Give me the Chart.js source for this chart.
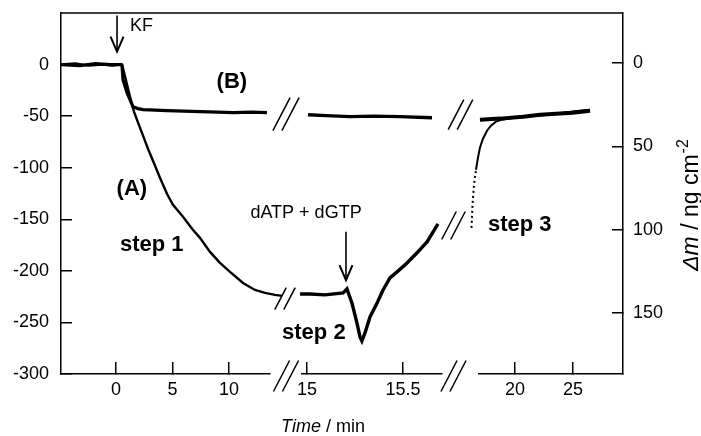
<!DOCTYPE html>
<html>
<head>
<meta charset="utf-8">
<script src="https://cdn.jsdelivr.net/npm/chart.js@4.4.1/dist/chart.umd.min.js"></script>
<style>
  html, body { margin: 0; padding: 0; background: #fff; }
  #wrap { width: 701px; height: 436px; }
</style>
</head>
<body>
<div id="wrap"><canvas id="qcmChart" width="701" height="436"></canvas></div>
<script>
// Frequency change (Hz) vs time (min), time axis broken in three pieces

// curve (A), step 1
const timeA1 = [-4.85, -3.6, -2.4, -1.2, -0.3, 0.3, 0.53, 0.8, 1.06, 1.33, 1.59, 1.95, 2.39, 2.83, 3.27, 3.89, 4.51, 5.04, 5.93, 6.73, 7.43, 8.32, 9.2, 10.09, 11.24, 12.3, 13.19, 14.07, 14.69];
const freqA1 = [0, 1, -1, 0, -1, 0, 0, -11.7, -23.3, -35, -45.6, -56.3, -68.9, -81.6, -93.2, -109.7, -125.3, -135.9, -147.6, -159.2, -168, -181.6, -192.3, -201, -211.7, -218.5, -221.4, -223.3, -224.3];
// curve (B), first piece
const timeB1 = [-4.85, -3.2, -1.8, -0.5, 0.4, 0.53, 0.62, 0.97, 1.24, 1.5, 1.95, 2.39, 3.5, 4.51, 6.0, 7.43, 9.0, 10.35, 12.0, 13.36];
const freqB1 = [0, -1, 1, 0, 0, -1, -14.6, -27.2, -34, -40.8, -42.7, -43.7, -44.2, -44.7, -45.2, -45.6, -46.1, -46.6, -46.1, -46.6];
// step 2 (middle piece)
const timeA2 = [14.964, 15.016, 15.094, 15.188, 15.208, 15.234, 15.26, 15.276, 15.286, 15.302, 15.328, 15.365, 15.396, 15.432, 15.469, 15.521, 15.573, 15.625, 15.682];
const freqA2 = [-222.4, -222.4, -223.3, -221.4, -217.5, -231.1, -250.5, -264.1, -268, -260.2, -244.7, -231.1, -218.5, -206.8, -201, -192.3, -182.5, -171.9, -154.4];
const timeB2 = [15.005, 15.1, 15.224, 15.35, 15.484, 15.651];
const freqB2 = [-48.6, -49.5, -50.5, -50.0, -50.5, -51.5];
// step 3 (last piece)
const timeA3 = [16.25, 16.34, 16.47, 16.64, 16.81, 16.98, 17.24, 17.59, 17.93, 18.36, 18.88, 20.0, 22.16, 24.97, 26.47];
const freqA3 = [-158.3, -135.9, -116.5, -102, -90.3, -80.6, -71.9, -64.1, -59.2, -55.3, -53.4, -51.5, -49.5, -45.6, -43.7];
const timeB3 = [16.98, 18.71, 20.69, 22.16, 23.53, 24.97, 26.47];
const freqB3 = [-53.4, -52.4, -50.5, -48.6, -47.6, -46.6, -44.7];

// tick labels
const leftTicks = [0, -50, -100, -150, -200, -250, -300];
const rightTicks = [0, 50, 100, 150];
const ticks1 = [0, 5, 10];
const ticks2 = [15, 15.5];
const ticks3 = [20, 25];

const FONT = "'Liberation Sans', Arial, Helvetica, sans-serif";
const tickFont = { family: FONT, size: 18 };

// text labels in data coordinates
const labels = [
    { text: 'KF', axis: 'x1', x: 1.24, y: 37, font: '18px ' + FONT, align: 'left' },
    { text: '(B)', axis: 'x1', x: 8.9, y: -16.5, font: 'bold 22px ' + FONT, align: 'left' },
    { text: '(A)', axis: 'x1', x: 0.05, y: -121, font: 'bold 22px ' + FONT, align: 'left' },
    { text: 'step 1', axis: 'x1', x: 0.35, y: -175, font: 'bold 22px ' + FONT, align: 'left' },
    { text: 'dATP + dGTP', axis: 'x2', x: 14.995, y: -144, font: '18px ' + FONT, align: 'center' },
    { text: 'step 2', axis: 'x2', x: 14.87, y: -260, font: 'bold 22px ' + FONT, align: 'left' },
    { text: 'step 3', axis: 'x3', x: 17.67, y: -155, font: 'bold 22px ' + FONT, align: 'left' }
];
const arrows = [
    { axis: 'x1', x: 0.09, from: 47.6, to: 12.6 },
    { axis: 'x2', x: 15.203, from: -162, to: -209 }
];
// break marks: gap axis, x shift, level (null = on the time axis)
const breaks = [
    { gap: 'g1', dx: 0, level: null, h: 31 },
    { gap: 'g1', dx: 0, level: -48, h: 33 },
    { gap: 'g1', dx: -1, level: -227, h: 22 },
    { gap: 'g2', dx: -7, level: null, h: 31 },
    { gap: 'g2', dx: 0, level: -48.6, h: 30 },
    { gap: 'g2', dx: -7, level: -156, h: 28 }
];

function pts(xs, ys) {
    return xs.map((x, i) => ({ x: x, y: ys[i] }));
}

function lineSet(xs, ys, axis, width) {
    return {
        data: pts(xs, ys),
        xAxisID: axis,
        yAxisID: 'y',
        borderColor: '#000',
        backgroundColor: '#000',
        borderWidth: width,
        pointRadius: 0,
        tension: 0,
        fill: false,
        clip: false
    };
}

function noPad(s) {
    s.paddingTop = 0;
    s.paddingBottom = 0;
    s.paddingLeft = 0;
    s.paddingRight = 0;
}

// range set in hooks (not min/max options) so the whole line is still drawn past the break
function timeAxis(lo, hi, ticks, weight, order) {
    return {
        type: 'linear',
        position: 'bottom',
        stack: 'time',
        stackWeight: weight,
        weight: order,
        bounds: 'data',
        afterDataLimits: s => { s.min = lo; s.max = hi; },
        afterBuildTicks: s => {
            s.ticks = ticks.map(v => ({ value: v }));
            s.min = lo;
            s.max = hi;
        },
        afterFit: s => { s.height = 62; noPad(s); },
        grid: { drawOnChartArea: false, tickLength: -12, color: '#000', lineWidth: 1.5 },
        border: { display: true, color: '#000', width: 1.5 },
        ticks: { color: '#000', font: tickFont, padding: 17, autoSkip: false, maxRotation: 0,
                 callback: v => String(v) }
    };
}

function gapAxis(weight, order) {
    return {
        type: 'linear',
        position: 'bottom',
        stack: 'time',
        stackWeight: weight,
        weight: order,
        min: 0,
        max: 1,
        afterBuildTicks: s => { s.ticks = []; },
        afterFit: s => { s.height = 62; noPad(s); },
        grid: { display: false },
        border: { display: false },
        ticks: { display: false }
    };
}

const decorPlugin = {
    id: 'decor',
    afterDraw(chart) {
        const ctx = chart.ctx;
        const area = chart.chartArea;
        const y = chart.scales.y;
        ctx.save();
        ctx.strokeStyle = '#000';
        ctx.fillStyle = '#000';

        // top frame line
        ctx.lineWidth = 1.5;
        ctx.beginPath();
        ctx.moveTo(area.left, area.top);
        ctx.lineTo(area.right, area.top);
        ctx.stroke();

        // labels
        labels.forEach(l => {
            ctx.font = l.font;
            ctx.textAlign = l.align;
            ctx.textBaseline = 'middle';
            ctx.fillText(l.text, chart.scales[l.axis].getPixelForValue(l.x), y.getPixelForValue(l.y));
        });

        // arrows
        arrows.forEach(a => {
            const px = chart.scales[a.axis].getPixelForValue(a.x);
            const y0 = y.getPixelForValue(a.from);
            const y1 = y.getPixelForValue(a.to);
            ctx.lineWidth = 1.6;
            ctx.beginPath();
            ctx.moveTo(px, y0);
            ctx.lineTo(px, y1);
            ctx.stroke();
            ctx.lineWidth = 2;
            ctx.beginPath();
            ctx.moveTo(px - 6.5, y1 - 15);
            ctx.lineTo(px, y1);
            ctx.lineTo(px + 6.5, y1 - 15);
            ctx.stroke();
        });

        // break marks
        ctx.lineWidth = 1.5;
        breaks.forEach(b => {
            const g = chart.scales[b.gap];
            const cx = (g.left + g.right) / 2 + b.dx;
            const cy = b.level === null ? area.bottom + 2 : y.getPixelForValue(b.level);
            const w = b.h * 0.52;
            [-4.5, 4.5].forEach(k => {
                ctx.beginPath();
                ctx.moveTo(cx + k - w / 2, cy + b.h / 2);
                ctx.lineTo(cx + k + w / 2, cy - b.h / 2);
                ctx.stroke();
            });
        });

        // x title: "Time / min"
        ctx.textBaseline = 'middle';
        ctx.textAlign = 'left';
        const tItal = 'italic 18px ' + FONT;
        const tNorm = '18px ' + FONT;
        ctx.font = tItal;
        const w1 = ctx.measureText('Time').width;
        ctx.font = tNorm;
        const w2 = ctx.measureText(' / min').width;
        let tx = (area.left + area.right) / 2 - 19 - (w1 + w2) / 2;
        ctx.font = tItal;
        ctx.fillText('Time', tx, 427);
        ctx.font = tNorm;
        ctx.fillText(' / min', tx + w1, 427);

        // right title: "Δm / ng cm-2"
        const rItal = 'italic 23px ' + FONT;
        const rNorm = '23px ' + FONT;
        const sup = '16px ' + FONT;
        ctx.textBaseline = 'alphabetic';
        ctx.translate(698, (area.top + area.bottom) / 2 + 12);
        ctx.rotate(-Math.PI / 2);
        ctx.font = rItal;
        const a1 = ctx.measureText('\u0394m').width;
        ctx.font = rNorm;
        const a2 = ctx.measureText(' / ng cm').width;
        ctx.font = sup;
        const a3 = ctx.measureText('-2').width;
        let sx = -(a1 + a2 + a3) / 2;
        ctx.font = rItal;
        ctx.fillText('\u0394m', sx, 0);
        ctx.font = rNorm;
        ctx.fillText(' / ng cm', sx + a1, 0);
        ctx.font = sup;
        ctx.fillText('-2', sx + a1 + a2 + 1, -10);
        ctx.restore();
    }
};

const ctx = document.getElementById('qcmChart').getContext('2d');
new Chart(ctx, {
    type: 'line',
    data: {
        datasets: [
            lineSet(timeA1, freqA1, 'x1', 2.4),
            lineSet(timeB1, freqB1, 'x1', 3.2),
            lineSet(timeA2, freqA2, 'x2', 3.4),
            lineSet(timeB2, freqB2, 'x2', 3.4),
            Object.assign(lineSet(timeA3, freqA3, 'x3', 2), {
                segment: { borderDash: c => c.p0.parsed.y < -110 ? [2, 3] : undefined }
            }),
            lineSet(timeB3, freqB3, 'x3', 4)
        ]
    },
    options: {
        responsive: false,
        animation: false,
        layout: { padding: { top: 13, left: 0, right: 0, bottom: 0 } },
        plugins: {
            legend: { display: false },
            tooltip: { enabled: false },
            title: { display: false }
        },
        scales: {
            x1: timeAxis(-4.87, 13.63, ticks1, 209, 1),
            g1: gapAxis(32, 2),
            x2: timeAxis(14.974, 15.703, ticks2, 140, 3),
            g2: gapAxis(37, 4),
            x3: timeAxis(16.9, 29.31, ticks3, 144, 5),
            y: {
                type: 'linear',
                position: 'left',
                min: -300,
                max: 50,
                afterBuildTicks: s => { s.ticks = leftTicks.map(v => ({ value: v })); },
                afterFit: s => { s.width = 61; noPad(s); },
                grid: { drawOnChartArea: false, tickLength: -11, color: '#000', lineWidth: 1.5 },
                border: { display: true, color: '#000', width: 1.5 },
                ticks: { color: '#000', font: tickFont, padding: 23, callback: v => String(v) }
            },
            y2: {
                type: 'linear',
                position: 'right',
                reverse: true,
                min: -30,
                max: 186.6,
                afterBuildTicks: s => { s.ticks = rightTicks.map(v => ({ value: v })); },
                afterFit: s => { s.width = 78; noPad(s); },
                grid: { drawOnChartArea: false, tickLength: -11, color: '#000', lineWidth: 1.5 },
                border: { display: true, color: '#000', width: 1.5 },
                ticks: { color: '#000', font: tickFont, padding: 21, callback: v => String(v) }
            }
        }
    },
    plugins: [decorPlugin]
});
</script>
</body>
</html>
